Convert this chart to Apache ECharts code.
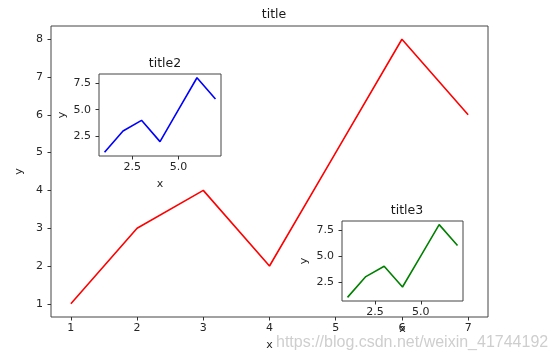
<!DOCTYPE html>
<html>
<head>
<meta charset="utf-8">
<script src="https://cdn.jsdelivr.net/npm/echarts@6/dist/echarts.min.js"></script>
<style>html,body{margin:0;padding:0;background:#fff}#c{width:553px;height:363px}</style>
</head>
<body>
<div id="c"></div>
<script>
const xValues = [1, 2, 3, 4, 5, 6, 7];
const yValues = [1, 3, 4, 2, 5, 8, 6];
const mainXTicks = [1, 2, 3, 4, 5, 6, 7];
const mainYTicks = [1, 2, 3, 4, 5, 6, 7, 8];
const insetXTicks = [2.5, 5.0];
const insetYTicks = [2.5, 5.0, 7.5];
const titles = ['title', 'title2', 'title3'];
const colors = ['#ff0000', '#0000ff', '#008000'];

const FONT = 'DejaVu Sans';
const TXT = '#262626';
const pairs = xValues.map((x, i) => [x, yValues[i]]);

const grids = [
  {left: 51, top: 26, width: 437, height: 291},
  {left: 99, top: 74, width: 122, height: 82},
  {left: 342, top: 221, width: 121, height: 80}
];

function xAxis(i, ticks, fmt, nameGap) {
  return {
    type: 'value', gridIndex: i, min: 0.7, max: 7.3, name: 'x',
    nameLocation: 'middle', nameGap: nameGap,
    nameTextStyle: {fontFamily: FONT, fontSize: 11, color: TXT},
    axisLine: {show: false}, splitLine: {show: false},
    axisTick: {show: true, length: 3.5, lineStyle: {color: '#333'}, customValues: ticks},
    axisLabel: {fontFamily: FONT, fontSize: 11, color: TXT, margin: 6, customValues: ticks, formatter: fmt}
  };
}
function yAxis(i, ticks, fmt, nameGap) {
  return {
    type: 'value', gridIndex: i, min: 0.65, max: 8.35, name: 'y',
    nameLocation: 'middle', nameGap: nameGap,
    nameTextStyle: {fontFamily: FONT, fontSize: 11, color: TXT},
    axisLine: {show: false}, splitLine: {show: false},
    axisTick: {show: true, length: 3.5, lineStyle: {color: '#333'}, customValues: ticks},
    axisLabel: {fontFamily: FONT, fontSize: 11, color: TXT, margin: 8, customValues: ticks, formatter: fmt}
  };
}
const intFmt = v => String(Math.round(v));
const decFmt = v => v.toFixed(1);

const titleStyle = {fontFamily: FONT, fontSize: 12.5, fontWeight: 'normal', color: '#1a1a1a'};
const option = {
  animation: false,
  backgroundColor: '#fff',
  title: [
    {text: titles[0], left: 269, top: 3, textAlign: 'center', textStyle: titleStyle},
    {text: titles[1], left: 160, top: 52, textAlign: 'center', textStyle: titleStyle},
    {text: titles[2], left: 402, top: 199, textAlign: 'center', textStyle: titleStyle}
  ],
  grid: grids.map(g => Object.assign({show: true, borderColor: '#444', borderWidth: 1, backgroundColor: '#fff', containLabel: false}, g)),
  xAxis: [
    xAxis(0, mainXTicks, intFmt, 23),
    xAxis(1, insetXTicks, decFmt, 23),
    xAxis(2, insetXTicks, decFmt, 23)
  ],
  yAxis: [
    yAxis(0, mainYTicks, intFmt, 25),
    yAxis(1, insetYTicks, decFmt, 31),
    yAxis(2, insetYTicks, decFmt, 32)
  ],
  series: [0, 1, 2].map(i => ({
    type: 'line', xAxisIndex: i, yAxisIndex: i, data: pairs,
    showSymbol: false, symbol: 'none',
    lineStyle: {color: colors[i], width: 1.6},
    z: 2 + i * 2
  })),
  graphic: [{
    type: 'text', left: 276, top: 335, silent: true,
    style: {text: 'https://blog.csdn.net/weixin_41744192', fill: 'rgba(190,190,190,0.75)', font: '16px "Liberation Sans", Arial, sans-serif'}
  }]
};

const chart = echarts.init(document.getElementById('c'), null, {renderer: 'canvas'});
chart.setOption(option);
</script>
</body>
</html>
